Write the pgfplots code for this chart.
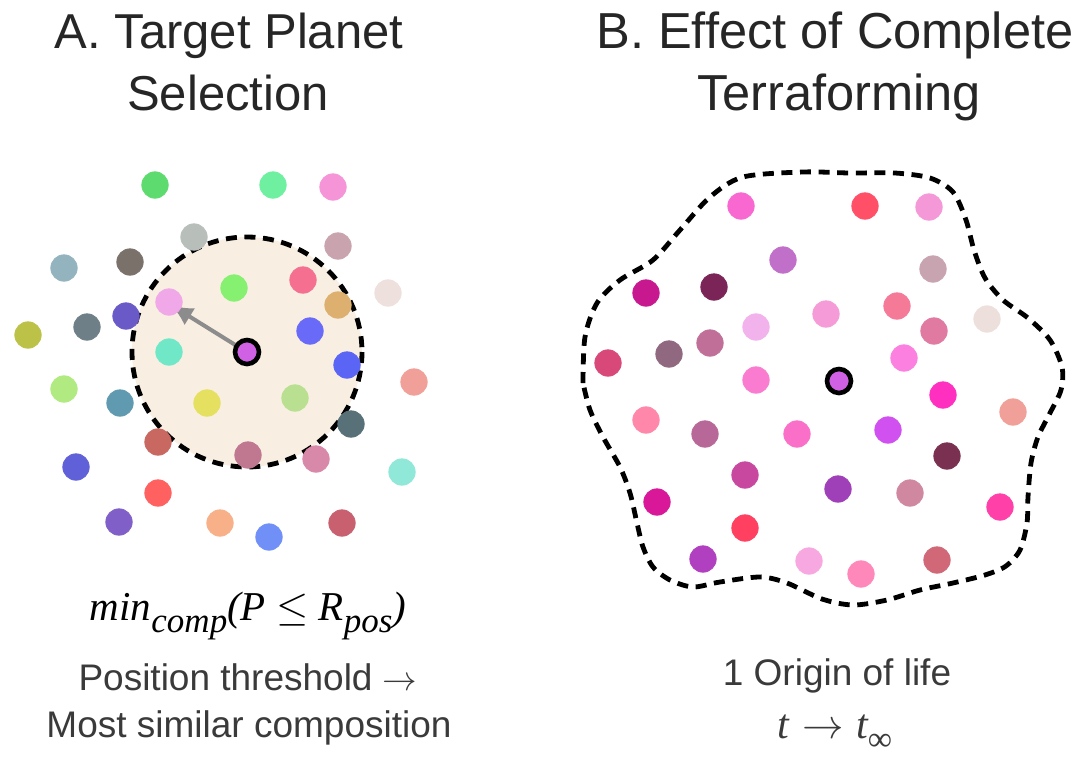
\documentclass[border=0pt]{standalone}
\usepackage{pgfplots}
\usepackage{pgfplotstable}
\pgfplotsset{compat=1.18}
\usetikzlibrary{arrows.meta}
\usepackage{fontspec}
\setmainfont{Liberation Sans}
\newfontfamily\timesfont{Liberation Serif}

\definecolor{titlegray}{HTML}{262626}
\definecolor{capgray}{HTML}{3A3A3A}
\definecolor{zone}{HTML}{F8EFE2}
\definecolor{arrowgray}{HTML}{8C8C8C}
\definecolor{centre}{HTML}{D060E4}

% planets, in pixel coordinates of the original figure
\pgfplotstableread{
x y c
155 185 5EDB6E
273 185 6EF0A0
333 187 F595D8
194 237 B8BFBB
130 262 7A716B
64 268 93B4BF
338 246 C9A3AE
234 288 86F070
303 280 F57090
388 293 EEE0DC
338 305 DDB070
169 302 F0A8E8
126 316 6A5AC8
87 327 6E7F87
28 335 BCC248
310 331 6A6AF8
169 352 70E8C8
347 365 5A64F5
64 389 B0EA80
120 403 609AB0
207 403 E6E060
295 398 B8E090
414 382 F0A098
158 442 C86860
351 424 587078
248 455 C07890
316 459 D888A8
402 472 90E8D8
76 467 6060D8
158 493 FF6060
119 522 8060C8
220 523 F8B088
269 537 7090F8
342 523 C86070
}\planetsA

\pgfplotstableread{
x y c
741 206 F868D0
865 206 FF5068
929 207 F598D8
783 260 C070C8
933 269 C8A4B0
714 287 7A2458
646 293 C81890
897 306 F57A98
826 314 F59CD8
987 319 EDE0DC
756 327 F2B2EC
934 331 E07AA0
710 343 C07098
669 354 906880
608 363 D84878
904 358 FC80E0
756 380 FA7CD0
943 395 FF30C0
1013 412 F0A098
646 420 FF88AA
888 430 D050F0
705 434 B86898
797 434 FA70C8
947 456 7A3050
745 475 C848A0
838 489 A040B8
910 493 D088A0
657 502 D81898
1000 507 FF40A8
745 528 FF4060
703 559 B040C0
809 561 F8A8E0
937 560 D06878
861 574 FF88BB
}\planetsB

\pgfplotsset{
  planets/.style={
    scatter, only marks, mark=*, mark size=6.6pt,
    point meta=explicit symbolic,
    scatter/@pre marker code/.code={%
      \definecolor{dotc}{HTML}{\pgfplotspointmeta}%
      \pgfsetfillcolor{dotc}\pgfsetstrokecolor{dotc}},
    scatter/@post marker code/.code={},
  },
}
\tikzset{dashedline/.style={black, line width=2.4pt, dash pattern=on 5.5pt off 3.8pt}}

\begin{document}
\begin{tikzpicture}
\begin{axis}[
    width=541pt, height=376.5pt, scale only axis,
    xmin=0, xmax=1082, ymin=0, ymax=753,
    y dir=reverse,
    hide axis, clip=false,
]
\path (rel axis cs:0,0) (rel axis cs:1,1);

% A: position threshold zone
\fill[zone] (axis cs:247,352) circle[radius=115];
\draw[dashedline] (axis cs:247,352) circle[radius=115];

% B: terraformed region
\addplot[dashedline, smooth] coordinates {
(583,383)(585,337)(597,303)(620,280)(653,260)(680,230)(710,197)(743,177)
(803,172)(850,173)(895,173)(930,178)(953,192)(966,220)(974,250)(985,278)
(1003,300)(1028,318)(1050,340)(1062,367)(1061,390)(1050,413)(1038,437)
(1031,463)(1028,497)(1027,523)(1020,550)(1006,566)(985,575)(953,583)
(920,590)(887,600)(853,605)(822,599)(787,583)(760,577)(720,582)(693,587)
(670,580)(653,567)(643,547)(637,523)(630,493)(620,467)(603,437)(590,410)(583,383)
};

\addplot[planets] table[x=x, y=y, meta=c] {\planetsA};
\addplot[planets] table[x=x, y=y, meta=c] {\planetsB};

% arrow to the most similar planet
\addplot[arrowgray, line width=2pt, -{Latex[length=11pt, width=10pt]}] coordinates {(237,346)(171,305)};

% origin planets
\addplot[only marks, mark=*, mark size=6pt, mark options={fill=centre, draw=black, line width=2.3pt}] coordinates {(247,352)(839,381)};

% titles
\node[anchor=base, text=titlegray, font=\fontsize{24.5}{29}\selectfont] at (axis cs:229,48) {A. Target Planet};
\node[anchor=base, text=titlegray, font=\fontsize{24.5}{29}\selectfont] at (axis cs:228,110) {Selection};
\node[anchor=base, text=titlegray, font=\fontsize{25.3}{29}\selectfont] at (axis cs:835,48) {B. Effect of Complete};
\node[anchor=base, text=titlegray, font=\fontsize{25.3}{29}\selectfont] at (axis cs:839,110) {Terraforming};

% captions
\node[anchor=base, text=black, font=\timesfont\itshape\fontsize{20.5}{24}\selectfont] at (axis cs:248,620)
  {min\raisebox{-0.3em}{\fontsize{17.5}{20}\selectfont comp}(P\hspace{0.25em}$\leq$\hspace{0.25em}R\raisebox{-0.3em}{\fontsize{17.5}{20}\selectfont pos})};
\node[anchor=base, text=capgray, font=\fontsize{18.5}{22}\selectfont] at (axis cs:248,690) {Position threshold $\rightarrow$};
\node[anchor=base, text=capgray, font=\fontsize{18.5}{22}\selectfont] at (axis cs:249,737) {Most similar composition};
\node[anchor=base, text=capgray, font=\fontsize{18.5}{22}\selectfont] at (axis cs:837,685) {1 Origin of life};
\node[anchor=base, text=capgray, font=\fontsize{21}{24}\selectfont] at (axis cs:835,738)
  {{\timesfont\itshape t}\hspace{0.3em}$\rightarrow$\hspace{0.3em}{\timesfont\itshape t}\raisebox{-0.3em}{\timesfont\fontsize{17}{20}\selectfont ∞}};
\end{axis}
\end{tikzpicture}
\end{document}
